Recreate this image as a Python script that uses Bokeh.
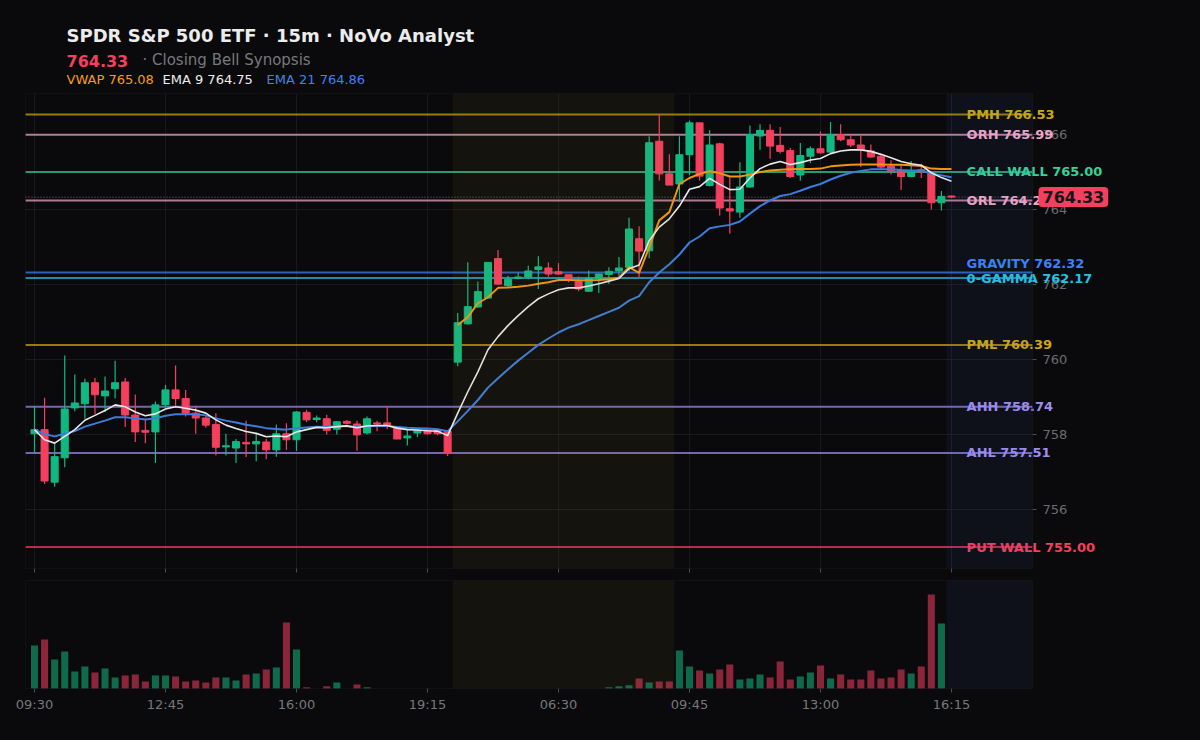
from bokeh.plotting import figure
from bokeh.models import ColumnDataSource, Range1d, Label, BoxAnnotation
from bokeh.layouts import column
from bokeh.core.properties import value
from bokeh.embed import file_html
from bokeh.resources import INLINE

# ---- data (15m bars, two sessions) ----
tick_idx = [0, 13, 26, 39, 52, 65, 78, 91]
tick_labels = ["09:30", "12:45", "16:00", "19:15", "06:30", "09:45", "13:00", "16:15"]
price_ticks = [756, 758, 760, 762, 764, 766]

opens = [758.02, 758.13, 756.73, 757.38, 758.71, 758.82, 759.38, 759.03, 759.22, 759.40,
         758.52, 758.11, 758.07, 758.80, 759.19, 758.96, 758.57, 758.44, 758.27, 757.67,
         757.64, 757.79, 757.75, 757.80, 757.59, 758.02, 757.86, 758.59, 758.40, 758.42,
         758.14, 758.35, 758.28, 758.04, 758.31, 758.31, 758.20, 757.91, 758.04, 758.12,
         758.11, 758.09, 759.93, 760.95, 761.40, 761.64, 762.69, 761.97, 762.16, 762.20,
         762.40, 762.44, 762.34, 762.26, 762.08, 761.82, 762.16, 762.27, 762.36, 762.46,
         763.22, 762.90, 765.82, 764.95, 764.68, 765.46, 766.31, 764.64, 765.75, 764.02,
         763.93, 764.60, 765.96, 766.11, 765.71, 765.57, 764.92, 765.42, 765.62, 765.53,
         766.00, 765.86, 765.72, 765.56, 765.42, 765.15, 765.04, 764.88, 765.06, 764.97,
         764.18, 764.36]
highs = [758.75, 758.98, 757.80, 760.11, 759.60, 759.49, 759.51, 759.55, 759.97, 759.51,
         759.07, 758.42, 758.88, 759.33, 759.84, 759.19, 758.77, 758.51, 758.57, 758.02,
         757.88, 758.37, 758.02, 757.88, 758.27, 758.30, 758.62, 758.66, 758.51, 758.53,
         758.36, 758.39, 758.37, 758.48, 758.37, 758.75, 758.21, 758.12, 758.14, 758.15,
         758.14, 758.11, 761.24, 762.59, 762.08, 762.59, 762.92, 762.23, 762.32, 762.50,
         762.75, 762.59, 762.57, 762.27, 762.21, 762.37, 762.29, 762.46, 762.73, 763.78,
         763.55, 765.95, 766.53, 765.47, 765.95, 766.37, 766.31, 766.11, 765.78, 764.86,
         765.26, 766.24, 766.27, 766.27, 766.20, 765.64, 765.77, 765.68, 766.08, 766.33,
         766.27, 765.99, 765.97, 765.73, 765.48, 765.31, 765.20, 765.29, 765.22, 765.00,
         764.49, 764.37]
lows = [757.53, 756.68, 756.61, 757.13, 758.62, 758.42, 758.55, 758.60, 758.96, 758.20,
        757.80, 757.77, 757.24, 758.73, 758.77, 758.48, 758.02, 758.18, 757.44, 757.44,
        757.24, 757.40, 757.29, 757.34, 757.41, 757.59, 757.56, 758.33, 758.33, 758.00,
        758.00, 758.27, 757.57, 758.00, 758.09, 758.15, 757.88, 757.71, 757.93, 758.00,
        757.98, 757.43, 759.82, 760.93, 761.38, 761.61, 761.99, 761.91, 762.14, 762.14,
        761.88, 762.21, 762.26, 762.06, 761.82, 761.80, 761.77, 762.01, 762.18, 762.36,
        762.20, 762.70, 764.77, 764.65, 764.20, 764.91, 764.77, 764.61, 763.84, 763.35,
        763.78, 764.58, 765.59, 765.35, 765.49, 764.84, 764.77, 765.24, 765.49, 765.51,
        765.82, 765.66, 765.13, 765.38, 765.08, 764.93, 764.52, 764.86, 764.84, 764.00,
        763.97, 764.30]
closes = [758.13, 756.76, 757.41, 758.68, 758.84, 759.38, 759.06, 759.16, 759.38, 758.52,
          758.07, 758.06, 758.79, 759.19, 758.96, 758.57, 758.44, 758.25, 757.66, 757.70,
          757.81, 757.75, 757.81, 757.59, 758.02, 757.86, 758.60, 758.39, 758.44, 758.11,
          758.34, 758.30, 757.99, 758.42, 758.28, 758.26, 757.88, 757.96, 758.11, 758.02,
          758.02, 757.50, 760.98, 761.41, 761.81, 762.59, 762.01, 762.14, 762.20, 762.36,
          762.47, 762.28, 762.28, 762.13, 761.88, 762.17, 762.28, 762.35, 762.44, 763.48,
          762.89, 765.78, 764.95, 764.65, 765.46, 766.31, 764.89, 765.72, 764.04, 763.96,
          764.60, 766.00, 766.11, 765.69, 765.55, 764.88, 765.44, 765.62, 765.51, 766.00,
          765.86, 765.72, 765.59, 765.40, 765.13, 765.01, 764.88, 764.99, 765.00, 764.18,
          764.35, 764.33]
# volume, thousands of shares
volume = [1720, 1960, 1160, 1480, 680, 880, 640, 800, 440, 520,
          560, 280, 520, 520, 480, 280, 320, 240, 440, 440,
          320, 560, 600, 760, 840, 2640, 1560, 52, 0, 92,
          240, 0, 160, 52, 0, 0, 0, 0, 0, 0,
          0, 0, 0, 0, 0, 0, 0, 0, 0, 0,
          0, 0, 0, 0, 0, 0, 0, 52, 92, 132,
          400, 240, 280, 280, 1520, 880, 720, 600, 760, 960,
          360, 400, 560, 440, 1080, 360, 480, 640, 920, 400,
          560, 360, 360, 720, 400, 440, 760, 600, 880, 3760,
          2600, 0]
ema9 = [758.13, 757.86, 757.77, 757.95, 758.13, 758.38, 758.51, 758.64, 758.79, 758.74,
        758.60, 758.50, 758.55, 758.68, 758.74, 758.70, 758.65, 758.57, 758.39, 758.25,
        758.16, 758.08, 758.03, 757.94, 757.96, 757.94, 758.07, 758.13, 758.19, 758.18,
        758.21, 758.23, 758.18, 758.23, 758.24, 758.24, 758.17, 758.13, 758.12, 758.10,
        758.09, 757.97, 758.57, 759.14, 759.67, 760.26, 760.61, 760.91, 761.17, 761.41,
        761.62, 761.75, 761.86, 761.91, 761.91, 761.96, 762.02, 762.09, 762.16, 762.42,
        762.52, 763.17, 763.53, 763.75, 764.09, 764.54, 764.61, 764.83, 764.67, 764.53,
        764.54, 764.84, 765.09, 765.21, 765.28, 765.20, 765.25, 765.32, 765.36, 765.49,
        765.56, 765.59, 765.59, 765.55, 765.47, 765.38, 765.28, 765.22, 765.18, 764.98,
        764.85, 764.75]
ema21 = [758.13, 758.01, 757.95, 758.02, 758.09, 758.21, 758.29, 758.37, 758.46, 758.46,
         758.43, 758.40, 758.43, 758.50, 758.54, 758.54, 758.54, 758.51, 758.43, 758.37,
         758.32, 758.26, 758.22, 758.17, 758.15, 758.13, 758.17, 758.19, 758.21, 758.20,
         758.22, 758.22, 758.20, 758.22, 758.23, 758.23, 758.20, 758.18, 758.17, 758.16,
         758.14, 758.09, 758.35, 758.63, 758.92, 759.25, 759.50, 759.74, 759.97, 760.18,
         760.39, 760.56, 760.72, 760.85, 760.94, 761.05, 761.16, 761.27, 761.38, 761.57,
         761.69, 762.06, 762.32, 762.54, 762.80, 763.12, 763.28, 763.50, 763.55, 763.59,
         763.68, 763.89, 764.09, 764.24, 764.36, 764.41, 764.50, 764.60, 764.68, 764.80,
         764.90, 764.98, 765.03, 765.07, 765.07, 765.07, 765.05, 765.04, 765.04, 764.96,
         764.91, 764.86]
# session VWAP, starts with the 04:00 bar of day two
vwap_start = 42
vwap = [760.92, 761.13, 761.50, 761.66, 761.91, 761.92, 761.94, 761.97, 762.02, 762.06,
        762.12, 762.12, 762.11, 762.11, 762.12, 762.14, 762.18, 762.46, 762.31, 762.99,
        763.71, 763.93, 764.68, 764.84, 764.95, 765.02, 764.97, 764.88, 764.88, 764.93,
        765.00, 765.04, 765.06, 765.07, 765.08, 765.08, 765.09, 765.15, 765.17, 765.19,
        765.20, 765.20, 765.20, 765.19, 765.19, 765.18, 765.16, 765.09, 765.08, 765.08]

level_names = ["PMH", "ORH", "CALL WALL", "ORL", "GRAVITY", "0-GAMMA", "PML", "AHH", "AHL", "PUT WALL"]
level_values = [766.53, 765.99, 765.00, 764.24, 762.32, 762.17, 760.39, 758.74, 757.51, 755.00]
level_colors = ["#cfa80c", "#f0a6c6", "#34d399", "#f0a6c6", "#3b82f6", "#22c3e0",
                "#cfa80c", "#a08cf0", "#a08cf0", "#f43f5e"]
level_lift = [0, 0, 0, 0, 9, 0, 0, 0, 0, 0]   # px, label nudged up to clear 0-GAMMA

premarket = (41.5, 63.5)
afterhours = 90.5

# ---- layout / styling ----
BG = "#0a0a0c"
UP = "#10b981"
DOWN = "#f43f5e"
GRID = "#1a1a1e"
TICK = "#505054"
BOX = "#242428"
FONT = "DejaVu Sans"
PX_X = 10.077     # px per bar
PX_Y = 37.5       # px per dollar
X0, X1 = -0.893, 99.04          # plot boxes, bar units
Y0, Y1 = 754.427, 767.093       # price box, dollars
VOL_TOP = 4320                  # volume box top
PX_V = 108 / VOL_TOP            # px per volume unit
LEVEL_LABEL_X = 92.5
HDR_H = 92

last = closes[-1]
idx = list(range(len(closes)))
up = [c >= o for o, c in zip(opens, closes)]
src = ColumnDataSource(dict(
    x=idx, h=highs, l=lows,
    top=[max(o, c) for o, c in zip(opens, closes)],
    bot=[min(o, c) for o, c in zip(opens, closes)],
    col=[UP if u else DOWN for u in up],
    vcol=["#0e6a4b" if u else "#8b2539" for u in up],
    vol=volume,
))

# every figure is frame-only (no borders, no bokeh axes) so the column keeps
# them at full width; boxes, grids and scales are drawn as glyphs
x_full = Range1d(X0 - 25 / PX_X, X1 + 168 / PX_X)


def panel(height, x_range, y_range):
    fig = figure(width=1200, height=height, x_range=x_range, y_range=y_range,
                 toolbar_location=None, tools="", output_backend="svg",
                 x_axis_location=None, y_axis_location=None, min_border=0,
                 min_border_left=0, min_border_right=0, min_border_top=0, min_border_bottom=0,
                 background_fill_color=BG, border_fill_color=BG, outline_line_color=None)
    fig.grid.visible = False
    return fig


# header (pixel coordinates, y down)
hdr = panel(HDR_H, Range1d(0, 1200), Range1d(HDR_H, 0))
hdr.text(x=[66], y=[35], text=["SPDR S&P 500 ETF · 15m · NoVo Analyst"], text_font=value(FONT),
         text_font_style="bold", text_font_size="18px", text_color="#ececec", text_baseline="middle")
hdr.text(x=[66], y=[60], text=[f"{last:.2f}"], text_font=value(FONT), text_font_style="bold",
         text_font_size="16px", text_color=DOWN, text_baseline="middle")
hdr.text(x=[142], y=[59], text=["· Closing Bell Synopsis"], text_font=value(FONT),
         text_font_size="15px", text_color="#78787c", text_baseline="middle")
hdr.text(x=[66], y=[79], text=[f"VWAP {vwap[-1]:.2f}"], text_font=value(FONT),
         text_font_size="13px", text_color="#f59e0b", text_baseline="middle")
hdr.text(x=[162], y=[79], text=[f"EMA 9 {ema9[-1]:.2f}"], text_font=value(FONT),
         text_font_size="13px", text_color="#ededed", text_baseline="middle")
hdr.text(x=[266], y=[79], text=[f"EMA 21 {ema21[-1]:.2f}"], text_font=value(FONT),
         text_font_size="13px", text_color="#3b82f6", text_baseline="middle")

# price panel: page rows HDR_H .. 578
p = panel(578 - HDR_H, x_full, Range1d(Y0 - 10 / PX_Y, Y1 + (93 - HDR_H) / PX_Y))

p.add_layout(BoxAnnotation(left=premarket[0], right=premarket[1], bottom=Y0, top=Y1,
                           fill_color="#b08a30", fill_alpha=0.07, line_color=None))
p.add_layout(BoxAnnotation(left=afterhours, right=X1, bottom=Y0, top=Y1,
                           fill_color="#4070d0", fill_alpha=0.07, line_color=None))

p.segment(x0=tick_idx, y0=[Y0] * len(tick_idx), x1=tick_idx, y1=[Y1] * len(tick_idx),
          line_color=GRID, line_width=1)
p.segment(x0=[X0] * len(price_ticks), y0=price_ticks, x1=[X1] * len(price_ticks), y1=price_ticks,
          line_color=GRID, line_width=1)
p.add_layout(BoxAnnotation(left=X0, right=X1, bottom=Y0, top=Y1, fill_color=None,
                           line_color=BOX, line_width=1))
# price scale on the right, time ticks under the box
p.segment(x0=[X1] * len(price_ticks), y0=price_ticks, x1=[X1 + 4 / PX_X] * len(price_ticks),
          y1=price_ticks, line_color=TICK, line_width=1)
p.text(x=[X1 + 10 / PX_X] * len(price_ticks), y=price_ticks, text=[str(t) for t in price_ticks],
       text_font=value(FONT), text_font_size="13px", text_color="#6c6c70", text_baseline="middle")
p.segment(x0=tick_idx, y0=[Y0] * len(tick_idx), x1=tick_idx, y1=[Y0 - 4 / PX_Y] * len(tick_idx),
          line_color=TICK, line_width=1)

# key levels
lev = ColumnDataSource(dict(
    v=level_values, col=level_colors,
    x0=[X0] * len(level_values), x1=[X1] * len(level_values),
    lx=[LEVEL_LABEL_X] * len(level_values),
    dy=[-s for s in level_lift],
    txt=[f"{n} {v:.2f}" for n, v in zip(level_names, level_values)],
))
p.segment(x0="x0", y0="v", x1="x1", y1="v", line_color="col", line_alpha=0.72, line_width=2, source=lev)
p.segment(x0=[X0], y0=[last], x1=[X1], y1=[last], line_color="#9a9a9e", line_alpha=0.7,
          line_dash="1 2", line_width=1)

# candles
p.segment(x0="x", y0="h", x1="x", y1="l", color="col", line_width=1.2, source=src)
p.vbar(x="x", top="top", bottom="bot", width=0.7, fill_color="col", line_color="col", source=src)

# indicators
p.line(idx, ema21, line_color="#3b7ddd", line_width=2)
p.line(list(range(vwap_start, vwap_start + len(vwap))), vwap, line_color="#f0960e", line_width=2)
p.line(idx, ema9, line_color="#e8e8e8", line_width=1.6)

p.text(x="lx", y="v", y_offset="dy", text="txt", text_color="col", text_font=value(FONT),
       text_font_style="bold", text_font_size="13px", text_baseline="middle", source=lev)

p.add_layout(Label(x=X1 + 6 / PX_X, y=last, text=f"{last:.2f}", text_color="#16161a", text_font=FONT,
                   text_font_style="bold", text_font_size="16px", text_baseline="middle",
                   text_align="left", background_fill_color=DOWN, border_radius=4, padding=4))

# volume panel: page rows 578 .. 740
vp = panel(162, x_full, Range1d(-52 / PX_V, VOL_TOP + 2 / PX_V))
vp.add_layout(BoxAnnotation(left=premarket[0], right=premarket[1], bottom=0, top=VOL_TOP,
                            fill_color="#b08a30", fill_alpha=0.07, line_color=None))
vp.add_layout(BoxAnnotation(left=afterhours, right=X1, bottom=0, top=VOL_TOP,
                            fill_color="#4070d0", fill_alpha=0.07, line_color=None))
vp.vbar(x="x", top="vol", width=0.7, fill_color="vcol", line_color=None, source=src)
vp.add_layout(BoxAnnotation(left=X0, right=X1, bottom=0, top=VOL_TOP, fill_color=None,
                            line_color=BOX, line_width=1))
vp.segment(x0=tick_idx, y0=[0] * len(tick_idx), x1=tick_idx, y1=[-4 / PX_V] * len(tick_idx),
           line_color=TICK, line_width=1)
vp.text(x=tick_idx, y=[-16 / PX_V] * len(tick_idx), text=tick_labels, text_font=value(FONT),
        text_font_size="13px", text_color="#77777b", text_align="center", text_baseline="middle")

page = column(hdr, p, vp, spacing=0, styles={"background-color": BG})
open("out.html", "w").write(file_html(page, INLINE))
